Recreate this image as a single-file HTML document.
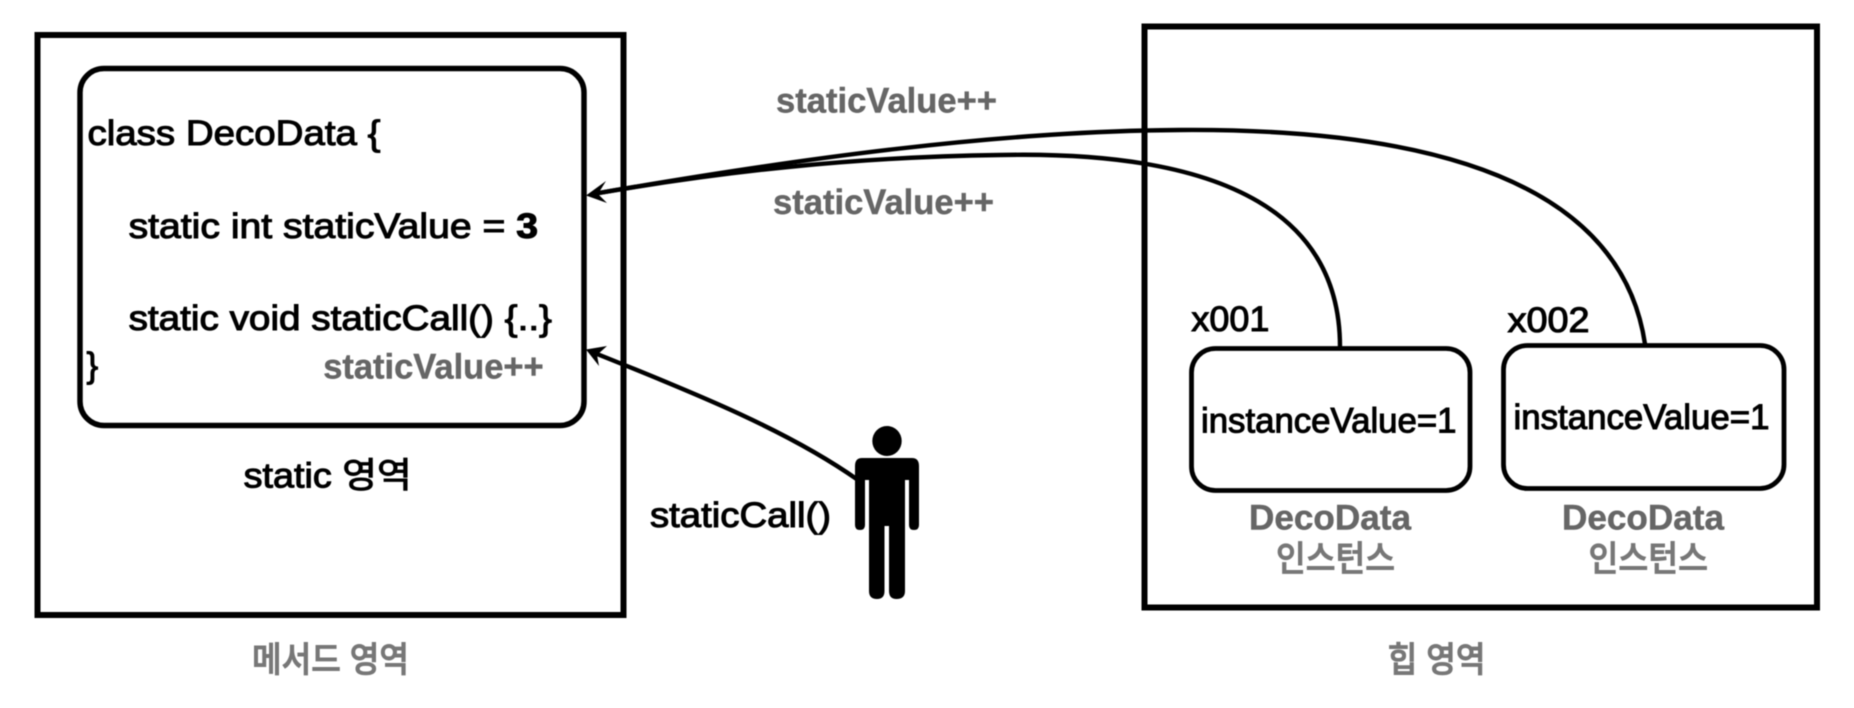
<!DOCTYPE html>
<html lang="ko">
<head>
<meta charset="utf-8">
<title>Static diagram</title>
<style>
html,body{margin:0;padding:0;background:#fff;width:1854px;height:708px;overflow:hidden}
svg{display:block;filter:blur(.5px)}
text{font-family:"Liberation Sans","Noto Sans CJK KR",sans-serif;font-size:35px;fill:#000;stroke:#000;stroke-width:1.05px}
text.g{fill:#666;stroke:#666;font-weight:bold;stroke-width:.45px}
text.k{fill:#777;stroke:#777;font-weight:500;stroke-width:.9px}
.b{fill:none;stroke:#000}
</style>
</head>
<body>
<svg width="1854" height="708" viewBox="0 0 1854 708" xmlns="http://www.w3.org/2000/svg">
<rect width="1854" height="708" fill="#fff"/>

<!-- containers -->
<rect class="b" x="37.5" y="35" width="586" height="580" stroke-width="6"/>
<rect class="b" x="1144.5" y="26.5" width="672.5" height="581" stroke-width="6"/>
<rect class="b" x="80" y="68.5" width="504" height="357" rx="24" stroke-width="5.5"/>
<rect class="b" x="1191.5" y="348.5" width="278.5" height="142" rx="24" stroke-width="4.8"/>
<rect class="b" x="1503.5" y="345.5" width="280.5" height="143" rx="24" stroke-width="4.8"/>

<!-- connectors -->
<path class="b" stroke-width="4.4" d="M1340 347 C1340 220 1235 150 1000 155 C850 157 720 172 593 194"/>
<path class="b" stroke-width="4.4" d="M1645 344 C1622 190 1450 128 1180 130 C1000 131 800 158 593 194"/>
<path class="b" stroke-width="4.4" d="M858 480 C790 432 700 395 592 352"/>
<polygon points="586,195.5 606,181 598,194 607,203"/>
<polygon points="586,349.5 607,346 597,355 599,366"/>

<!-- person -->
<g fill="#000">
<ellipse cx="887" cy="441" rx="14.7" ry="15"/>
<path d="M862 458 H912 Q919 458 919 466 V525 Q919 530 914 530 Q909 530 909 525 V480 H905 V591 Q905 599 896.5 599 Q889 599 889 591 V526 H884.5 V591 Q884.5 599 877 599 Q869 599 869 591 V480 H865 V525 Q865 530 860 530 Q855 530 855 525 V466 Q855 458 862 458 Z"/>
</g>

<!-- class text -->
<text x="87.5" y="145" textLength="293" lengthAdjust="spacingAndGlyphs">class DecoData {</text>
<text x="128.6" y="238" textLength="409.4" lengthAdjust="spacingAndGlyphs">static int staticValue = <tspan font-weight="bold">3</tspan></text>
<text x="128.6" y="330" textLength="423.4" lengthAdjust="spacingAndGlyphs">static void staticCall() {..}</text>
<text x="86.5" y="377">}</text>
<text class="g" x="323.2" y="378.5" textLength="220.5" lengthAdjust="spacingAndGlyphs">staticValue++</text>
<text x="243.7" y="487.6" textLength="168" lengthAdjust="spacingAndGlyphs">static 영역</text>
<text class="k" x="252" y="672" textLength="157" lengthAdjust="spacingAndGlyphs">메서드 영역</text>

<!-- middle labels -->
<text class="g" x="776" y="112.5" textLength="221" lengthAdjust="spacingAndGlyphs">staticValue++</text>
<text class="g" x="773" y="214" textLength="221" lengthAdjust="spacingAndGlyphs">staticValue++</text>
<text x="650" y="527" textLength="181" lengthAdjust="spacingAndGlyphs">staticCall()</text>

<!-- heap -->
<text x="1191.4" y="331" textLength="78" lengthAdjust="spacingAndGlyphs">x001</text>
<text x="1507.6" y="332" textLength="82" lengthAdjust="spacingAndGlyphs">x002</text>
<text x="1201" y="432.5" textLength="255.5" lengthAdjust="spacingAndGlyphs">instanceValue=1</text>
<text x="1513.5" y="429" textLength="256" lengthAdjust="spacingAndGlyphs">instanceValue=1</text>
<text class="g" x="1249" y="529.5" textLength="162" lengthAdjust="spacingAndGlyphs">DecoData</text>
<text class="g" x="1562" y="529.5" textLength="162" lengthAdjust="spacingAndGlyphs">DecoData</text>
<text class="k" x="1276" y="571" textLength="119" lengthAdjust="spacingAndGlyphs">인스턴스</text>
<text class="k" x="1588.5" y="571" textLength="119.5" lengthAdjust="spacingAndGlyphs">인스턴스</text>
<text class="k" x="1387.6" y="672" textLength="98" lengthAdjust="spacingAndGlyphs">힙 영역</text>
</svg>
</body>
</html>
